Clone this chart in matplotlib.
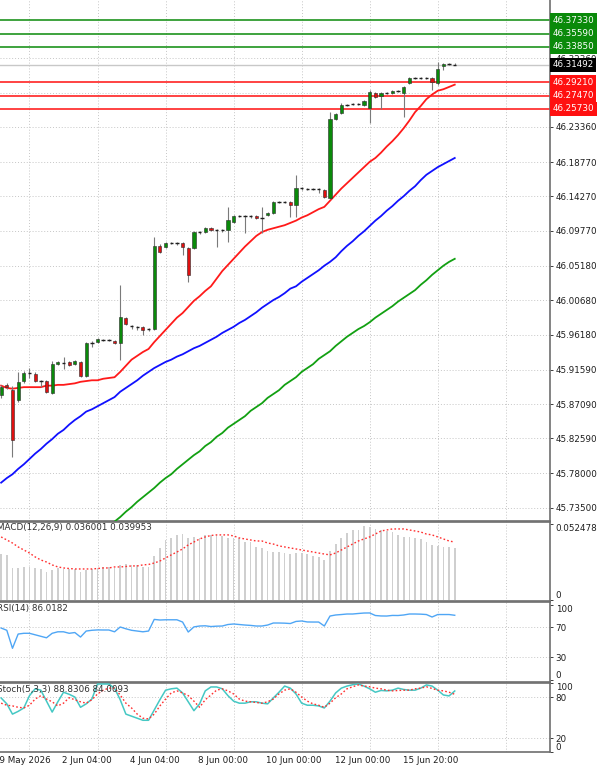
import numpy as np
import matplotlib
matplotlib.use("Agg")
import matplotlib.pyplot as plt

# ---------------- data ----------------
opens = [45.8828, 45.8959, 45.8893, 45.8762, 45.9011, 45.9116, 45.9103, 45.9011, 45.9011, 45.8854,
         45.9234, 45.9247, 45.9260, 45.9234, 45.9260, 45.9077, 45.9508, 45.9521, 45.9548, 45.9550,
         45.9535, 45.9508, 45.9836, 45.9731, 45.9725, 45.9718, 45.9692, 45.9692, 46.0779, 46.0765,
         46.0818, 46.0815, 46.0818, 46.0752, 46.0752, 46.0962, 46.0962, 46.1014, 46.0988, 46.0985,
         46.0988, 46.1092, 46.1171, 46.1168, 46.1171, 46.1171, 46.1145, 46.1184, 46.1210, 46.1354,
         46.1350, 46.1354, 46.1315, 46.1538, 46.1525, 46.1528, 46.1525, 46.1511, 46.1407, 46.2441,
         46.2519, 46.2624, 46.2637, 46.2637, 46.2624, 46.2585, 46.2781, 46.2742, 46.2781, 46.2781,
         46.2807, 46.2781, 46.2912, 46.2977, 46.2975, 46.2978, 46.2977, 46.2912, 46.3135, 46.3161,
         46.3155]
highs = [45.8959, 45.8985, 45.8946, 45.9129, 45.9142, 45.9181, 45.9129, 45.9024, 45.9024, 45.9273,
         45.9273, 45.9325, 45.9273, 45.9286, 45.9273, 45.9521, 45.9535, 45.9574, 45.9561, 45.9561,
         45.9548, 46.0268, 45.9849, 45.9744, 45.9731, 45.9731, 45.9705, 46.0896, 46.0805, 46.0831,
         46.0831, 46.0831, 46.0831, 46.0765, 46.0975, 46.0975, 46.1027, 46.1027, 46.1001, 46.1001,
         46.1289, 46.1184, 46.1184, 46.1184, 46.1184, 46.1184, 46.1289, 46.1223, 46.1367, 46.1367,
         46.1367, 46.1367, 46.1708, 46.1551, 46.1538, 46.1538, 46.1538, 46.1525, 46.2532, 46.2519,
         46.2650, 46.2637, 46.2650, 46.2650, 46.2689, 46.2820, 46.2794, 46.2794, 46.2794, 46.2820,
         46.2820, 46.2873, 46.2991, 46.2991, 46.2991, 46.2991, 46.2991, 46.3187, 46.3174, 46.3174,
         46.3174]
lows = [45.8788, 45.8906, 45.8016, 45.8736, 45.8985, 45.9050, 45.8998, 45.8933, 45.8854, 45.8841,
        45.9221, 45.9168, 45.9208, 45.9221, 45.9063, 45.9063, 45.9456, 45.9508, 45.9535, 45.9535,
        45.9495, 45.9286, 45.9744, 45.9692, 45.9679, 45.9613, 45.9666, 45.9679, 46.0687, 46.0752,
        46.0805, 46.0792, 46.0660, 46.0307, 46.0739, 46.0935, 46.0948, 46.0975, 46.0765, 46.0962,
        46.0831, 46.1079, 46.1158, 46.0948, 46.1145, 46.1132, 46.0948, 46.1171, 46.1197, 46.1341,
        46.1341, 46.1158, 46.1158, 46.1511, 46.1511, 46.1511, 46.1472, 46.1407, 46.1394, 46.2428,
        46.2506, 46.2611, 46.2624, 46.2624, 46.2611, 46.2388, 46.2716, 46.2572, 46.2768, 46.2768,
        46.2794, 46.2467, 46.2899, 46.2964, 46.2964, 46.2964, 46.2820, 46.2886, 46.3082, 46.3148,
        46.3148]
closes = [45.8933, 45.8933, 45.8239, 45.8998, 45.9116, 45.9110, 45.9011, 45.9005, 45.8867, 45.9234,
          45.9260, 45.9250, 45.9221, 45.9273, 45.9077, 45.9508, 45.9505, 45.9561, 45.9550, 45.9545,
          45.9508, 45.9849, 45.9757, 45.9725, 45.9720, 45.9679, 45.9695, 46.0779, 46.0700, 46.0818,
          46.0815, 46.0818, 46.0765, 46.0399, 46.0962, 46.0960, 46.1014, 46.0988, 46.0985, 46.0990,
          46.1119, 46.1171, 46.1168, 46.1171, 46.1165, 46.1145, 46.1148, 46.1210, 46.1354, 46.1350,
          46.1354, 46.1315, 46.1538, 46.1535, 46.1528, 46.1525, 46.1528, 46.1420, 46.2441, 46.2506,
          46.2624, 46.2620, 46.2640, 46.2635, 46.2676, 46.2794, 46.2729, 46.2781, 46.2778, 46.2807,
          46.2805, 46.2860, 46.2977, 46.2975, 46.2978, 46.2977, 46.2925, 46.3095, 46.3161, 46.3155,
          46.31492]

ma_fast = [45.895, 45.892, 45.891, 45.892, 45.893, 45.893, 45.893, 45.893, 45.895, 45.895,
           45.896, 45.896, 45.897, 45.898, 45.900, 45.901, 45.902, 45.902, 45.904, 45.905,
           45.906, 45.913, 45.921, 45.929, 45.934, 45.939, 45.943, 45.952, 45.960, 45.968,
           45.976, 45.984, 45.990, 45.998, 46.006, 46.012, 46.019, 46.025, 46.035, 46.045,
           46.053, 46.061, 46.069, 46.077, 46.084, 46.091, 46.096, 46.099, 46.101, 46.103,
           46.105, 46.108, 46.111, 46.115, 46.118, 46.122, 46.126, 46.129, 46.137, 46.145,
           46.153, 46.160, 46.167, 46.174, 46.181, 46.188, 46.193, 46.200, 46.208, 46.215,
           46.223, 46.232, 46.242, 46.253, 46.261, 46.270, 46.276, 46.281, 46.283, 46.286,
           46.289]
ma_mid = [45.768, 45.774, 45.779, 45.786, 45.792, 45.799, 45.806, 45.812, 45.819, 45.825,
          45.832, 45.837, 45.844, 45.850, 45.855, 45.861, 45.864, 45.868, 45.872, 45.876,
          45.880, 45.887, 45.892, 45.897, 45.902, 45.908, 45.913, 45.918, 45.922, 45.926,
          45.929, 45.933, 45.936, 45.940, 45.944, 45.947, 45.951, 45.955, 45.959, 45.964,
          45.968, 45.972, 45.977, 45.981, 45.986, 45.991, 45.997, 46.002, 46.007, 46.011,
          46.016, 46.022, 46.025, 46.031, 46.036, 46.041, 46.046, 46.052, 46.057, 46.063,
          46.071, 46.078, 46.084, 46.091, 46.097, 46.104, 46.111, 46.117, 46.124, 46.130,
          46.137, 46.143, 46.150, 46.156, 46.164, 46.171, 46.176, 46.181, 46.185, 46.189,
          46.193]
ma_slow = [np.nan] * 19 + [
    45.711, 45.717, 45.723, 45.730, 45.736, 45.743, 45.749, 45.755, 45.761, 45.768,
    45.774, 45.779, 45.786, 45.792, 45.798, 45.804, 45.809, 45.816, 45.821, 45.828,
    45.833, 45.840, 45.845, 45.850, 45.855, 45.862, 45.867, 45.872, 45.879, 45.884,
    45.889, 45.896, 45.901, 45.906, 45.913, 45.918, 45.923, 45.930, 45.935, 45.940,
    45.947, 45.953, 45.959, 45.964, 45.969, 45.973, 45.978, 45.984, 45.989, 45.994,
    45.999, 46.005, 46.010, 46.015, 46.020, 46.027, 46.033, 46.040, 46.046, 46.052,
    46.057, 46.061]

macd_main = [0.0320, 0.0311, 0.0221, 0.0221, 0.0228, 0.0228, 0.0221, 0.0214, 0.0193, 0.0207,
             0.0221, 0.0214, 0.0214, 0.0214, 0.0193, 0.0207, 0.0214, 0.0221, 0.0228, 0.0228,
             0.0221, 0.0242, 0.0248, 0.0242, 0.0242, 0.0228, 0.0228, 0.0304, 0.0359, 0.0414,
             0.0428, 0.0449, 0.0455, 0.0428, 0.0435, 0.0428, 0.0449, 0.0449, 0.0449, 0.0442,
             0.0428, 0.0428, 0.0428, 0.0400, 0.0400, 0.0366, 0.0359, 0.0338, 0.0331, 0.0331,
             0.0324, 0.0317, 0.0324, 0.0324, 0.0317, 0.0304, 0.0297, 0.0276, 0.0338, 0.0386,
             0.0428, 0.0462, 0.0483, 0.0483, 0.0510, 0.0505, 0.0490, 0.0483, 0.0476, 0.0469,
             0.0449, 0.0435, 0.0435, 0.0428, 0.0421, 0.0400, 0.0380, 0.0373, 0.0366, 0.0366,
             0.036001]
macd_signal = [0.0435, 0.0414, 0.0393, 0.0366, 0.0345, 0.0324, 0.0297, 0.0276, 0.0262, 0.0242,
               0.0228, 0.0221, 0.0217, 0.0214, 0.0214, 0.0214, 0.0214, 0.0217, 0.0221, 0.0221,
               0.0228, 0.0228, 0.0231, 0.0235, 0.0235, 0.0242, 0.0245, 0.0255, 0.0269, 0.0290,
               0.0311, 0.0331, 0.0352, 0.0380, 0.0400, 0.0421, 0.0435, 0.0445, 0.0449, 0.0449,
               0.0449, 0.0442, 0.0428, 0.0421, 0.0414, 0.0407, 0.0407, 0.0393, 0.0386, 0.0373,
               0.0366, 0.0359, 0.0352, 0.0345, 0.0338, 0.0331, 0.0324, 0.0317, 0.0311, 0.0324,
               0.0345, 0.0366, 0.0386, 0.0407, 0.0421, 0.0435, 0.0455, 0.0476, 0.0483, 0.0490,
               0.0490, 0.0490, 0.0483, 0.0476, 0.0469, 0.0455, 0.0449, 0.0435, 0.0421, 0.0407,
               0.039953]

rsi = [69, 66, 42, 61, 62, 62, 60, 58, 56, 62,
       64, 64, 62, 63, 57, 65, 66, 66.5, 66.4, 66.4,
       64, 70.4, 68, 66, 65, 64, 65, 80.5, 79.7, 80,
       80, 80, 77, 63.7, 70.5, 71.7, 72, 71, 71.5, 71.7,
       73.7, 74.4, 73.7, 73, 72.5, 71.7, 71.7, 73, 75.7, 75.7,
       75.5, 75, 77.8, 78.4, 77.1, 77, 77, 71.7, 85, 86.4,
       87, 87.7, 87.7, 88.4, 89, 89.1, 85.7, 85.1, 85, 85.8,
       85.7, 86.4, 87.7, 87.7, 87.5, 87, 83.7, 87, 87, 87,
       86.0182]

stoch_main = [78.6, 70, 55, 59, 64, 82, 92, 90, 74, 58,
              73, 87, 84, 80, 65, 70, 77, 99, 99, 99,
              93, 76, 55, 52, 49, 46, 46, 61, 76, 90,
              92, 93, 86, 73, 60, 70, 89, 94.7, 94.7, 92,
              82, 74, 71, 71, 73, 73, 71, 70, 78.6, 87,
              96, 93, 84.5, 71, 68, 68, 67, 64, 74, 86,
              93, 96, 98, 99, 96, 92, 87, 89.6, 89, 90,
              93, 91, 90, 90, 93, 97.7, 96, 90, 83, 81.6,
              88.8306]
stoch_signal = [71, 68, 67, 65, 64, 68, 77, 82, 77, 73,
                67, 71, 79, 76, 73, 71, 76, 84.5, 90, 93,
                93, 83, 71, 64, 55, 49, 48, 55, 67, 77,
                86, 89, 86, 82, 74, 65, 76, 83, 90, 92,
                89, 84.5, 77, 74, 73, 72, 71, 73, 77, 84.5,
                90, 92, 87, 80, 74, 70, 68, 65, 71, 79,
                84.5, 92, 95, 97.7, 96, 95, 93, 92, 90, 89,
                89.5, 90, 90, 92, 93, 95, 92.5, 90, 89, 87,
                84.0093]

price_ticks = [46.32360, 46.27860, 46.23360, 46.18770, 46.14270, 46.09770, 46.05180,
               46.00680, 45.96180, 45.91590, 45.87090, 45.82590, 45.78000, 45.73500]
resistance_levels = [46.37330, 46.35590, 46.33850]
support_levels = [46.29210, 46.27470, 46.25730]
current_price = 46.31492

time_labels = ["29 May 2026", "2 Jun 04:00", "4 Jun 04:00", "8 Jun 00:00",
               "10 Jun 00:00", "12 Jun 00:00", "15 Jun 20:00"]
time_label_bars = [-1, 11, 23, 35, 47, 59, 71]
grid_bars = [5, 17, 29, 41, 53, 65, 77, 89]

# ---------------- figure ----------------
W, H = 600, 768
fig = plt.figure(figsize=(W / 100, H / 100), dpi=100)
fig.patch.set_facecolor("white")


def add_px(x0, y0, x1, y1):
    return fig.add_axes([x0 / W, 1 - y1 / H, (x1 - x0) / W, (y1 - y0) / H])


ax = add_px(0, 0, 550, 521)
axm = add_px(0, 522, 550, 601)
axr = add_px(0, 602, 550, 682)
axs = add_px(0, 683, 550, 752)

n = len(closes)
x = np.arange(n)
o = np.array(opens); h = np.array(highs); l = np.array(lows); c = np.array(closes)

FS = 6.3
TXT = "#1e1e1e"
GRID = "#c6c6c6"
DOT = (0, (1, 2))

for a in (ax, axm, axr, axs):
    a.set_facecolor("white")
    a.set_xlim(-0.2, 96.8)
    a.set_xticks(grid_bars)
    a.tick_params(axis="x", length=0, labelbottom=False)
    a.grid(axis="x", color=GRID, ls=DOT, lw=0.7)
    for s in a.spines.values():
        s.set_color("#6e6e6e")
        s.set_linewidth(1.2)
    a.spines["left"].set_visible(False)
    a.yaxis.tick_right()
    a.tick_params(axis="y", labelsize=FS, length=2.5, pad=1.5, colors=TXT, width=0.6)
    a.set_axisbelow(True)
ax.spines["top"].set_visible(False)

# ---- main price panel ----
ax.set_ylim(45.7178, 46.3998)
ax.set_yticks(price_ticks)
ax.set_yticklabels([f"{v:.5f}" for v in price_ticks])
ax.grid(axis="y", color=GRID, ls=DOT, lw=0.7)

ax.axhline(current_price, color="#c8c8c8", lw=1.0, zorder=1)
for lv in resistance_levels:
    ax.axhline(lv, color="#0a8a0a", lw=1.1, zorder=2)
for lv in support_levels:
    ax.axhline(lv, color="#ff1010", lw=1.1, zorder=2)

ax.plot(x, ma_slow, color="#12a012", lw=1.3, zorder=3)
ax.plot(x, ma_mid, color="#1010ff", lw=1.3, zorder=3)
ax.plot(x, ma_fast, color="#ff1a1a", lw=1.3, zorder=3)

ax.vlines(x, l, h, color="#7a7a7a", lw=0.8, zorder=4)
body = np.abs(c - o)
doji = body < 0.0008
colors = np.where(c >= o, "#0a8a0a", "#e01010")
nd = ~doji
ax.bar(x[nd], body[nd], bottom=np.minimum(o, c)[nd], width=0.56,
       color=colors[nd], edgecolor="#2a2a2a", linewidth=0.4, zorder=5)
ax.hlines(c[doji], x[doji] - 0.3, x[doji] + 0.3, color="#202020", lw=1.0, zorder=5)

ytr = ax.get_yaxis_transform()
box_kw = dict(transform=ytr, ha="left", va="center", fontsize=FS, color="white",
              clip_on=False, zorder=10)
for lv in resistance_levels:
    ax.text(1.0045, lv, f"{lv:.5f}", bbox=dict(boxstyle="square,pad=0.28", fc="#0a8a0a", ec="none"), **box_kw)
for lv in support_levels:
    ax.text(1.0045, lv, f"{lv:.5f}", bbox=dict(boxstyle="square,pad=0.28", fc="#ff1010", ec="none"), **box_kw)
ax.text(1.0045, current_price, f"{current_price:.5f}",
        bbox=dict(boxstyle="square,pad=0.28", fc="black", ec="none"), **box_kw)

# ---- MACD panel ----
axm.bar(x, macd_main, width=0.3, color="#cfcfcf", zorder=2)
axm.plot(x, macd_signal, color="#ff3030", ls=(0, (1.2, 1.6)), lw=1.0, zorder=3)
axm.set_ylim(-0.0007, 0.0538)
axm.set_yticks([0.052478, 0.0])
axm.set_yticklabels(["0.052478", "0"])
lbls = axm.get_yticklabels()
lbls[0].set_va("top"); lbls[1].set_va("bottom")
axm.text(-0.006, 0.985, f"MACD(12,26,9) {macd_main[-1]:.6f} {macd_signal[-1]:.6f}",
         transform=axm.transAxes, ha="left", va="top", fontsize=FS, color="#303030")

# ---- RSI panel ----
axr.axhline(70, color=GRID, ls=DOT, lw=0.7)
axr.axhline(30, color=GRID, ls=DOT, lw=0.7)
axr.plot(x, rsi, color="#4fa6f5", lw=1.0, zorder=3)
axr.set_ylim(-2.9, 103.7)
axr.set_yticks([100, 70, 30, 0])
axr.set_yticklabels(["100", "70", "30", "0"])
lbls = axr.get_yticklabels()
lbls[0].set_va("top"); lbls[3].set_va("bottom")
axr.text(-0.006, 0.975, f"RSI(14) {rsi[-1]:.4f}", transform=axr.transAxes,
         ha="left", va="top", fontsize=FS, color="#303030")

# ---- Stochastic panel ----
axs.axhline(80, color=GRID, ls=DOT, lw=0.7)
axs.axhline(20, color=GRID, ls=DOT, lw=0.7)
axs.plot(x, stoch_main, color="#45c8c4", lw=1.1, zorder=3)
axs.plot(x, stoch_signal, color="#ff3030", ls=(0, (1.2, 1.6)), lw=1.0, zorder=3)
axs.set_ylim(-0.4, 100.5)
axs.set_yticks([100, 80, 20, 0])
axs.set_yticklabels(["100", "80", "20", "0"])
lbls = axs.get_yticklabels()
lbls[0].set_va("top"); lbls[3].set_va("bottom")
axs.text(-0.006, 0.97, f"Stoch(5,3,3) {stoch_main[-1]:.4f} {stoch_signal[-1]:.4f}",
         transform=axs.transAxes, ha="left", va="top", fontsize=FS, color="#303030")

for lab, b in zip(time_labels, time_label_bars):
    axs.annotate(lab, xy=(b - 0.2, 0), xycoords=("data", "axes fraction"),
                 xytext=(0, -3), textcoords="offset points", ha="left", va="top",
                 fontsize=FS, color=TXT, annotation_clip=False)

fig.savefig("out.png", dpi=100, facecolor="white")
